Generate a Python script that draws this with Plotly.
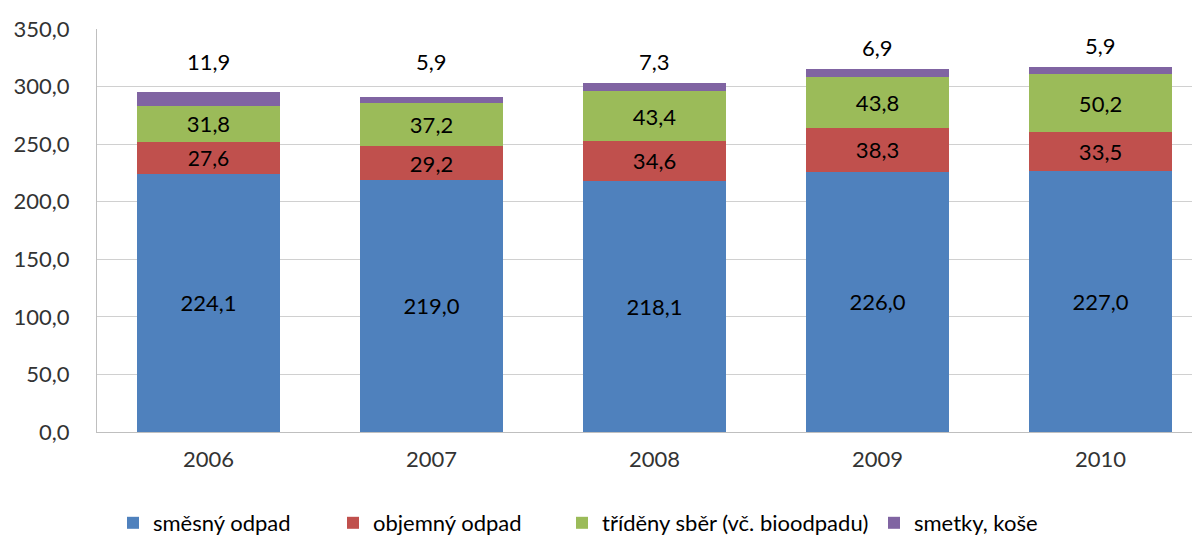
import plotly.graph_objects as go

years = ["2006", "2007", "2008", "2009", "2010"]
smesny = [224.1, 219.0, 218.1, 226.0, 227.0]
objemny = [27.6, 29.2, 34.6, 38.3, 33.5]
trideny = [31.8, 37.2, 43.4, 43.8, 50.2]
smetky = [11.9, 5.9, 7.3, 6.9, 5.9]

names = ["směsný odpad", "objemný odpad", "tříděny sběr (vč. bioodpadu)", "smetky, koše"]
colors = ["#4F81BD", "#C0504D", "#9BBB59", "#8064A2"]
FONT = "Lato"

# page is rendered with an 8px body margin; compensate in margins
L, T, B = 89, 21, 117
PLOT_W = 1200 - L

def fmt(v):
    return f"{v:.1f}".replace(".", ",")

legend_ids = ["legend2", "legend3", "legend4", "legend5"]
legend_left_px = [113, 333, 562, 874]  # page x of each legend item

fig = go.Figure()
for i, (vals, nm, col) in enumerate(zip([smesny, objemny, trideny, smetky], names, colors)):
    fig.add_trace(go.Bar(
        x=years, y=vals, name=nm, marker=dict(color=col, line=dict(width=0)),
        text=[fmt(v) for v in vals] if i < 3 else None,
        textposition="inside" if i < 3 else "none",
        insidetextanchor="middle",
        textangle=0,
        textfont=dict(family=FONT, size=22, color="black"),
        hoverinfo="skip",
        legend=legend_ids[i],
        showlegend=True,
    ))

totals = [a + b + c + d for a, b, c, d in zip(smesny, objemny, trideny, smetky)]
for idx, (t, v) in enumerate(zip(totals, smetky)):
    fig.add_annotation(x=idx, xref="x", y=max(t, 303), yref="y", text=fmt(v),
                       showarrow=False, yanchor="bottom", yshift=6,
                       font=dict(family=FONT, size=22, color="black"))

plot_h = 541 - T - B
legend_y = -70 / plot_h
leg_common = dict(orientation="h", xanchor="left", y=legend_y, yanchor="top",
                  font=dict(family=FONT, size=22, color="black"),
                  itemwidth=30, itemsizing="constant", bgcolor="rgba(0,0,0,0)")
legends = {}
for lid, px in zip(legend_ids, legend_left_px):
    legends[lid] = dict(leg_common, x=(px - 8 - L) / PLOT_W)

fig.update_layout(
    barmode="stack", bargap=0.36,
    width=1200, height=541,
    showlegend=True,
    margin=dict(l=L, r=0, t=T, b=B, autoexpand=False),
    paper_bgcolor="white", plot_bgcolor="white",
    separators=", ",
    font=dict(family=FONT, size=22, color="#333333"),
    xaxis=dict(type="category", range=[-0.5, 4.482], showline=True,
               linecolor="#BFBFBF", linewidth=1, automargin=False,
               ticks="", ticklabelstandoff=8,
               tickfont=dict(family=FONT, size=22, color="#333333")),
    yaxis=dict(range=[0, 350], dtick=50, tickformat=".1f", showgrid=True,
               gridcolor="#D0D0D0", gridwidth=1, showline=True, linecolor="#BFBFBF",
               linewidth=1, zeroline=False, ticks="", ticklabelstandoff=22,
               automargin=False,
               tickfont=dict(family=FONT, size=22, color="#333333")),
    **legends,
)

fig.write_html("out.html")
